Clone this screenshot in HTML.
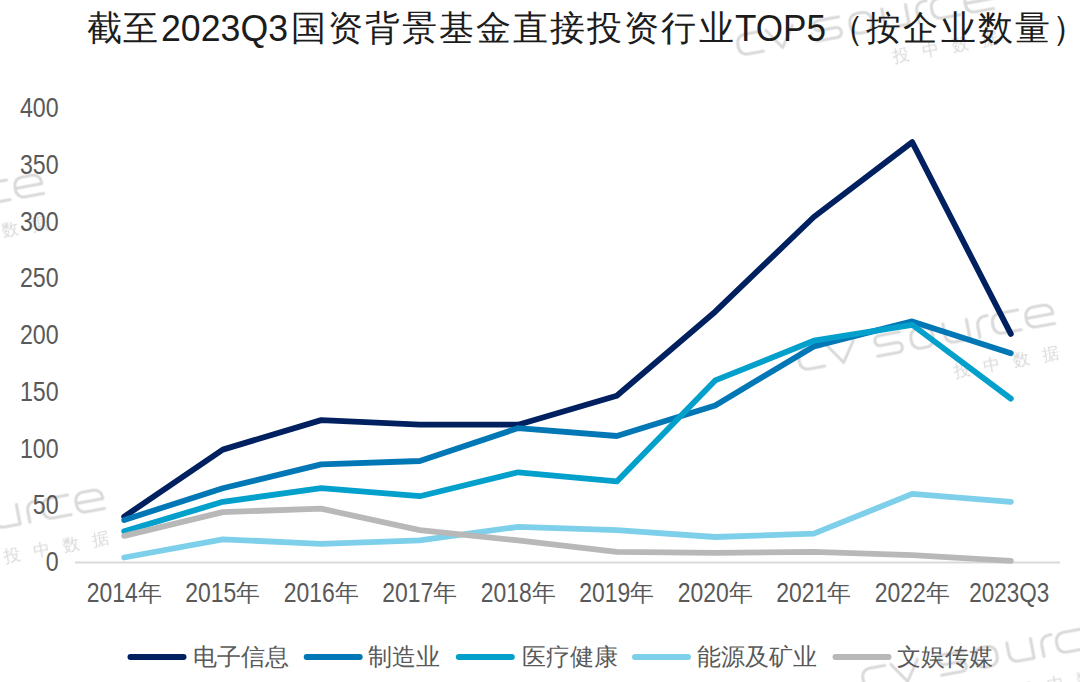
<!DOCTYPE html>
<html><head><meta charset="utf-8"><style>
html,body{margin:0;padding:0;background:#fff;width:1080px;height:682px;overflow:hidden}
svg{display:block}
text{font-family:"Liberation Sans",sans-serif}
</style></head><body>
<svg width="1080" height="682" viewBox="0 0 1080 682">
<defs><filter id="wmblur" x="-20%" y="-50%" width="140%" height="200%"><feGaussianBlur stdDeviation="0.5"/></filter></defs>
<rect width="1080" height="682" fill="#fff"/>

<g transform="translate(737,56) rotate(-10.5)" filter="url(#wmblur)"><g fill="none" stroke="#dadada" stroke-width="3.1" stroke-linecap="round" stroke-linejoin="round"><path transform="translate(3,0)" d="M24,-20.0 H8.0 A8.0,8.0 0 0 0 0,-12.0 V-8.0 A8.0,8.0 0 0 0 8.0,0 H24"/><path transform="translate(33,0)" d="M0,-20.0 L13.5,0 L27,-20.0"/><path transform="translate(81,0)" d="M26,-20.0 H5.0 A5.0,5.0 0 0 0 5.0,-10.0 H21.0 A5.0,5.0 0 0 1 21.0,0 H0"/><path transform="translate(117,0)" d="M8.0,-20.0 H14.0 A8.0,8.0 0 0 1 22,-12.0 V-8.0 A8.0,8.0 0 0 1 14.0,0 H8.0 A8.0,8.0 0 0 1 0,-8.0 V-12.0 A8.0,8.0 0 0 1 8.0,-20.0 Z"/><path transform="translate(151,0)" d="M0,-20.0 V-8.0 A8.0,8.0 0 0 0 8.0,0 H24 V-20.0"/><path transform="translate(185,0)" d="M0,0 V-12.0 A8.0,8.0 0 0 1 8.0,-20.0 H11"/><path transform="translate(200,0)" d="M27,-20.0 H8.0 A8.0,8.0 0 0 0 0,-12.0 V-8.0 A8.0,8.0 0 0 0 8.0,0 H27"/><path transform="translate(234,0)" d="M0,-10.0 H27 V-12.0 A8.0,8.0 0 0 0 19.0,-20.0 H8.0 A8.0,8.0 0 0 0 0,-12.0 V-8.0 A8.0,8.0 0 0 0 8.0,0 H27"/></g><g fill="#dadada" font-size="16.5" text-anchor="middle"><text x="161" y="35">投</text><text x="191" y="35">中</text><text x="221" y="35">数</text><text x="251" y="35">据</text></g></g>
<g transform="translate(-213,241) rotate(-10.5)" filter="url(#wmblur)"><g fill="none" stroke="#dadada" stroke-width="3.1" stroke-linecap="round" stroke-linejoin="round"><path transform="translate(3,0)" d="M24,-20.0 H8.0 A8.0,8.0 0 0 0 0,-12.0 V-8.0 A8.0,8.0 0 0 0 8.0,0 H24"/><path transform="translate(33,0)" d="M0,-20.0 L13.5,0 L27,-20.0"/><path transform="translate(81,0)" d="M26,-20.0 H5.0 A5.0,5.0 0 0 0 5.0,-10.0 H21.0 A5.0,5.0 0 0 1 21.0,0 H0"/><path transform="translate(117,0)" d="M8.0,-20.0 H14.0 A8.0,8.0 0 0 1 22,-12.0 V-8.0 A8.0,8.0 0 0 1 14.0,0 H8.0 A8.0,8.0 0 0 1 0,-8.0 V-12.0 A8.0,8.0 0 0 1 8.0,-20.0 Z"/><path transform="translate(151,0)" d="M0,-20.0 V-8.0 A8.0,8.0 0 0 0 8.0,0 H24 V-20.0"/><path transform="translate(185,0)" d="M0,0 V-12.0 A8.0,8.0 0 0 1 8.0,-20.0 H11"/><path transform="translate(200,0)" d="M27,-20.0 H8.0 A8.0,8.0 0 0 0 0,-12.0 V-8.0 A8.0,8.0 0 0 0 8.0,0 H27"/><path transform="translate(234,0)" d="M0,-10.0 H27 V-12.0 A8.0,8.0 0 0 0 19.0,-20.0 H8.0 A8.0,8.0 0 0 0 0,-12.0 V-8.0 A8.0,8.0 0 0 0 8.0,0 H27"/></g><g fill="#dadada" font-size="16.5" text-anchor="middle"><text x="161" y="35">投</text><text x="191" y="35">中</text><text x="221" y="35">数</text><text x="251" y="35">据</text></g></g>
<g transform="translate(798,371) rotate(-10.5)" filter="url(#wmblur)"><g fill="none" stroke="#dadada" stroke-width="3.1" stroke-linecap="round" stroke-linejoin="round"><path transform="translate(3,0)" d="M24,-20.0 H8.0 A8.0,8.0 0 0 0 0,-12.0 V-8.0 A8.0,8.0 0 0 0 8.0,0 H24"/><path transform="translate(33,0)" d="M0,-20.0 L13.5,0 L27,-20.0"/><path transform="translate(81,0)" d="M26,-20.0 H5.0 A5.0,5.0 0 0 0 5.0,-10.0 H21.0 A5.0,5.0 0 0 1 21.0,0 H0"/><path transform="translate(117,0)" d="M8.0,-20.0 H14.0 A8.0,8.0 0 0 1 22,-12.0 V-8.0 A8.0,8.0 0 0 1 14.0,0 H8.0 A8.0,8.0 0 0 1 0,-8.0 V-12.0 A8.0,8.0 0 0 1 8.0,-20.0 Z"/><path transform="translate(151,0)" d="M0,-20.0 V-8.0 A8.0,8.0 0 0 0 8.0,0 H24 V-20.0"/><path transform="translate(185,0)" d="M0,0 V-12.0 A8.0,8.0 0 0 1 8.0,-20.0 H11"/><path transform="translate(200,0)" d="M27,-20.0 H8.0 A8.0,8.0 0 0 0 0,-12.0 V-8.0 A8.0,8.0 0 0 0 8.0,0 H27"/><path transform="translate(234,0)" d="M0,-10.0 H27 V-12.0 A8.0,8.0 0 0 0 19.0,-20.0 H8.0 A8.0,8.0 0 0 0 0,-12.0 V-8.0 A8.0,8.0 0 0 0 8.0,0 H27"/></g><g fill="#dadada" font-size="16.5" text-anchor="middle"><text x="161" y="35">投</text><text x="191" y="35">中</text><text x="221" y="35">数</text><text x="251" y="35">据</text></g></g>
<g transform="translate(-152,556) rotate(-10.5)" filter="url(#wmblur)"><g fill="none" stroke="#dadada" stroke-width="3.1" stroke-linecap="round" stroke-linejoin="round"><path transform="translate(3,0)" d="M24,-20.0 H8.0 A8.0,8.0 0 0 0 0,-12.0 V-8.0 A8.0,8.0 0 0 0 8.0,0 H24"/><path transform="translate(33,0)" d="M0,-20.0 L13.5,0 L27,-20.0"/><path transform="translate(81,0)" d="M26,-20.0 H5.0 A5.0,5.0 0 0 0 5.0,-10.0 H21.0 A5.0,5.0 0 0 1 21.0,0 H0"/><path transform="translate(117,0)" d="M8.0,-20.0 H14.0 A8.0,8.0 0 0 1 22,-12.0 V-8.0 A8.0,8.0 0 0 1 14.0,0 H8.0 A8.0,8.0 0 0 1 0,-8.0 V-12.0 A8.0,8.0 0 0 1 8.0,-20.0 Z"/><path transform="translate(151,0)" d="M0,-20.0 V-8.0 A8.0,8.0 0 0 0 8.0,0 H24 V-20.0"/><path transform="translate(185,0)" d="M0,0 V-12.0 A8.0,8.0 0 0 1 8.0,-20.0 H11"/><path transform="translate(200,0)" d="M27,-20.0 H8.0 A8.0,8.0 0 0 0 0,-12.0 V-8.0 A8.0,8.0 0 0 0 8.0,0 H27"/><path transform="translate(234,0)" d="M0,-10.0 H27 V-12.0 A8.0,8.0 0 0 0 19.0,-20.0 H8.0 A8.0,8.0 0 0 0 0,-12.0 V-8.0 A8.0,8.0 0 0 0 8.0,0 H27"/></g><g fill="#dadada" font-size="16.5" text-anchor="middle"><text x="161" y="35">投</text><text x="191" y="35">中</text><text x="221" y="35">数</text><text x="251" y="35">据</text></g></g>
<g transform="translate(862,690) rotate(-10.5)" filter="url(#wmblur)"><g fill="none" stroke="#dadada" stroke-width="3.1" stroke-linecap="round" stroke-linejoin="round"><path transform="translate(3,0)" d="M24,-20.0 H8.0 A8.0,8.0 0 0 0 0,-12.0 V-8.0 A8.0,8.0 0 0 0 8.0,0 H24"/><path transform="translate(33,0)" d="M0,-20.0 L13.5,0 L27,-20.0"/><path transform="translate(81,0)" d="M26,-20.0 H5.0 A5.0,5.0 0 0 0 5.0,-10.0 H21.0 A5.0,5.0 0 0 1 21.0,0 H0"/><path transform="translate(117,0)" d="M8.0,-20.0 H14.0 A8.0,8.0 0 0 1 22,-12.0 V-8.0 A8.0,8.0 0 0 1 14.0,0 H8.0 A8.0,8.0 0 0 1 0,-8.0 V-12.0 A8.0,8.0 0 0 1 8.0,-20.0 Z"/><path transform="translate(151,0)" d="M0,-20.0 V-8.0 A8.0,8.0 0 0 0 8.0,0 H24 V-20.0"/><path transform="translate(185,0)" d="M0,0 V-12.0 A8.0,8.0 0 0 1 8.0,-20.0 H11"/><path transform="translate(200,0)" d="M27,-20.0 H8.0 A8.0,8.0 0 0 0 0,-12.0 V-8.0 A8.0,8.0 0 0 0 8.0,0 H27"/><path transform="translate(234,0)" d="M0,-10.0 H27 V-12.0 A8.0,8.0 0 0 0 19.0,-20.0 H8.0 A8.0,8.0 0 0 0 0,-12.0 V-8.0 A8.0,8.0 0 0 0 8.0,0 H27"/></g><g fill="#dadada" font-size="16.5" text-anchor="middle"><text x="161" y="35">投</text><text x="191" y="35">中</text><text x="221" y="35">数</text><text x="251" y="35">据</text></g></g>
<g fill="#1c1c1c" font-size="36.5">
<text x="86.5" y="39.5" font-size="35" letter-spacing="1.6">截至</text>
<text x="161" y="41" textLength="127" lengthAdjust="spacingAndGlyphs">2023Q3</text>
<text x="290.5" y="39.5" font-size="35" letter-spacing="2.1">国资背景基金直接投资行业</text>
<text x="735" y="41" textLength="91" lengthAdjust="spacingAndGlyphs">TOP5</text>
<text x="829" y="39.5" font-size="35" letter-spacing="2.2">（按企业数量）</text>
</g>
<g fill="#595959" font-size="27" text-anchor="end">
<text x="58.6" y="571.0" textLength="12.9" lengthAdjust="spacingAndGlyphs">0</text>
<text x="58.6" y="514.2" textLength="25.8" lengthAdjust="spacingAndGlyphs">50</text>
<text x="58.6" y="457.5" textLength="38.7" lengthAdjust="spacingAndGlyphs">100</text>
<text x="58.6" y="400.8" textLength="38.7" lengthAdjust="spacingAndGlyphs">150</text>
<text x="58.6" y="344.0" textLength="38.7" lengthAdjust="spacingAndGlyphs">200</text>
<text x="58.6" y="287.2" textLength="38.7" lengthAdjust="spacingAndGlyphs">250</text>
<text x="58.6" y="230.5" textLength="38.7" lengthAdjust="spacingAndGlyphs">300</text>
<text x="58.6" y="173.8" textLength="38.7" lengthAdjust="spacingAndGlyphs">350</text>
<text x="58.6" y="117.0" textLength="38.7" lengthAdjust="spacingAndGlyphs">400</text>
</g>
<line x1="75.0" y1="562.6" x2="1060.0" y2="562.6" stroke="#D9D9D9" stroke-width="2"/>
<g fill="#595959" font-size="27">
<text x="86.8" y="602" textLength="51" lengthAdjust="spacingAndGlyphs">2014</text>
<text x="137.8" y="601" font-size="24">年</text>
<text x="185.2" y="602" textLength="51" lengthAdjust="spacingAndGlyphs">2015</text>
<text x="236.2" y="601" font-size="24">年</text>
<text x="283.8" y="602" textLength="51" lengthAdjust="spacingAndGlyphs">2016</text>
<text x="334.8" y="601" font-size="24">年</text>
<text x="382.2" y="602" textLength="51" lengthAdjust="spacingAndGlyphs">2017</text>
<text x="433.2" y="601" font-size="24">年</text>
<text x="480.8" y="602" textLength="51" lengthAdjust="spacingAndGlyphs">2018</text>
<text x="531.8" y="601" font-size="24">年</text>
<text x="579.2" y="602" textLength="51" lengthAdjust="spacingAndGlyphs">2019</text>
<text x="630.2" y="601" font-size="24">年</text>
<text x="677.8" y="602" textLength="51" lengthAdjust="spacingAndGlyphs">2020</text>
<text x="728.8" y="601" font-size="24">年</text>
<text x="776.2" y="602" textLength="51" lengthAdjust="spacingAndGlyphs">2021</text>
<text x="827.2" y="601" font-size="24">年</text>
<text x="874.8" y="602" textLength="51" lengthAdjust="spacingAndGlyphs">2022</text>
<text x="925.8" y="601" font-size="24">年</text>
<text x="969.2" y="602" textLength="80" lengthAdjust="spacingAndGlyphs">2023Q3</text>
</g>
<polyline points="124.2,516.6 222.8,449.6 321.2,420.1 419.8,424.7 518.2,424.7 616.8,395.7 715.2,311.7 813.8,217.0 912.2,142.1 1010.8,333.9" fill="none" stroke="#002060" stroke-width="5.8" stroke-linecap="round" stroke-linejoin="round"/>
<polyline points="124.2,520.0 222.8,488.2 321.2,464.4 419.8,461.0 518.2,428.1 616.8,436.0 715.2,405.4 813.8,346.4 912.2,321.4 1010.8,353.2" fill="none" stroke="#0277B5" stroke-width="5.8" stroke-linecap="round" stroke-linejoin="round"/>
<polyline points="124.2,531.4 222.8,501.8 321.2,488.2 419.8,496.2 518.2,472.3 616.8,481.4 715.2,380.4 813.8,340.7 912.2,324.8 1010.8,398.6" fill="none" stroke="#03A0CC" stroke-width="5.8" stroke-linecap="round" stroke-linejoin="round"/>
<polyline points="124.2,557.5 222.8,539.3 321.2,543.8 419.8,540.4 518.2,526.8 616.8,530.2 715.2,537.0 813.8,533.6 912.2,493.9 1010.8,501.8" fill="none" stroke="#7ED0EA" stroke-width="5.8" stroke-linecap="round" stroke-linejoin="round"/>
<polyline points="124.2,535.9 222.8,512.1 321.2,508.7 419.8,530.2 518.2,540.4 616.8,551.8 715.2,552.9 813.8,551.8 912.2,555.2 1010.8,560.9" fill="none" stroke="#B8B8B8" stroke-width="5.8" stroke-linecap="round" stroke-linejoin="round"/>
<g fill="#595959" font-size="23.5">
<line x1="130.5" y1="657" x2="183.5" y2="657" stroke="#002060" stroke-width="6" stroke-linecap="round"/>
<text x="193" y="665">电子信息</text>
<line x1="306.7" y1="657" x2="359.7" y2="657" stroke="#0277B5" stroke-width="6" stroke-linecap="round"/>
<text x="368" y="665">制造业</text>
<line x1="458.8" y1="657" x2="511.8" y2="657" stroke="#03A0CC" stroke-width="6" stroke-linecap="round"/>
<text x="522" y="665">医疗健康</text>
<line x1="635" y1="657" x2="688" y2="657" stroke="#7ED0EA" stroke-width="6" stroke-linecap="round"/>
<text x="697" y="665">能源及矿业</text>
<line x1="835.5" y1="657" x2="888.5" y2="657" stroke="#B8B8B8" stroke-width="6" stroke-linecap="round"/>
<text x="897" y="665">文娱传媒</text>
</g>
</svg></body></html>
